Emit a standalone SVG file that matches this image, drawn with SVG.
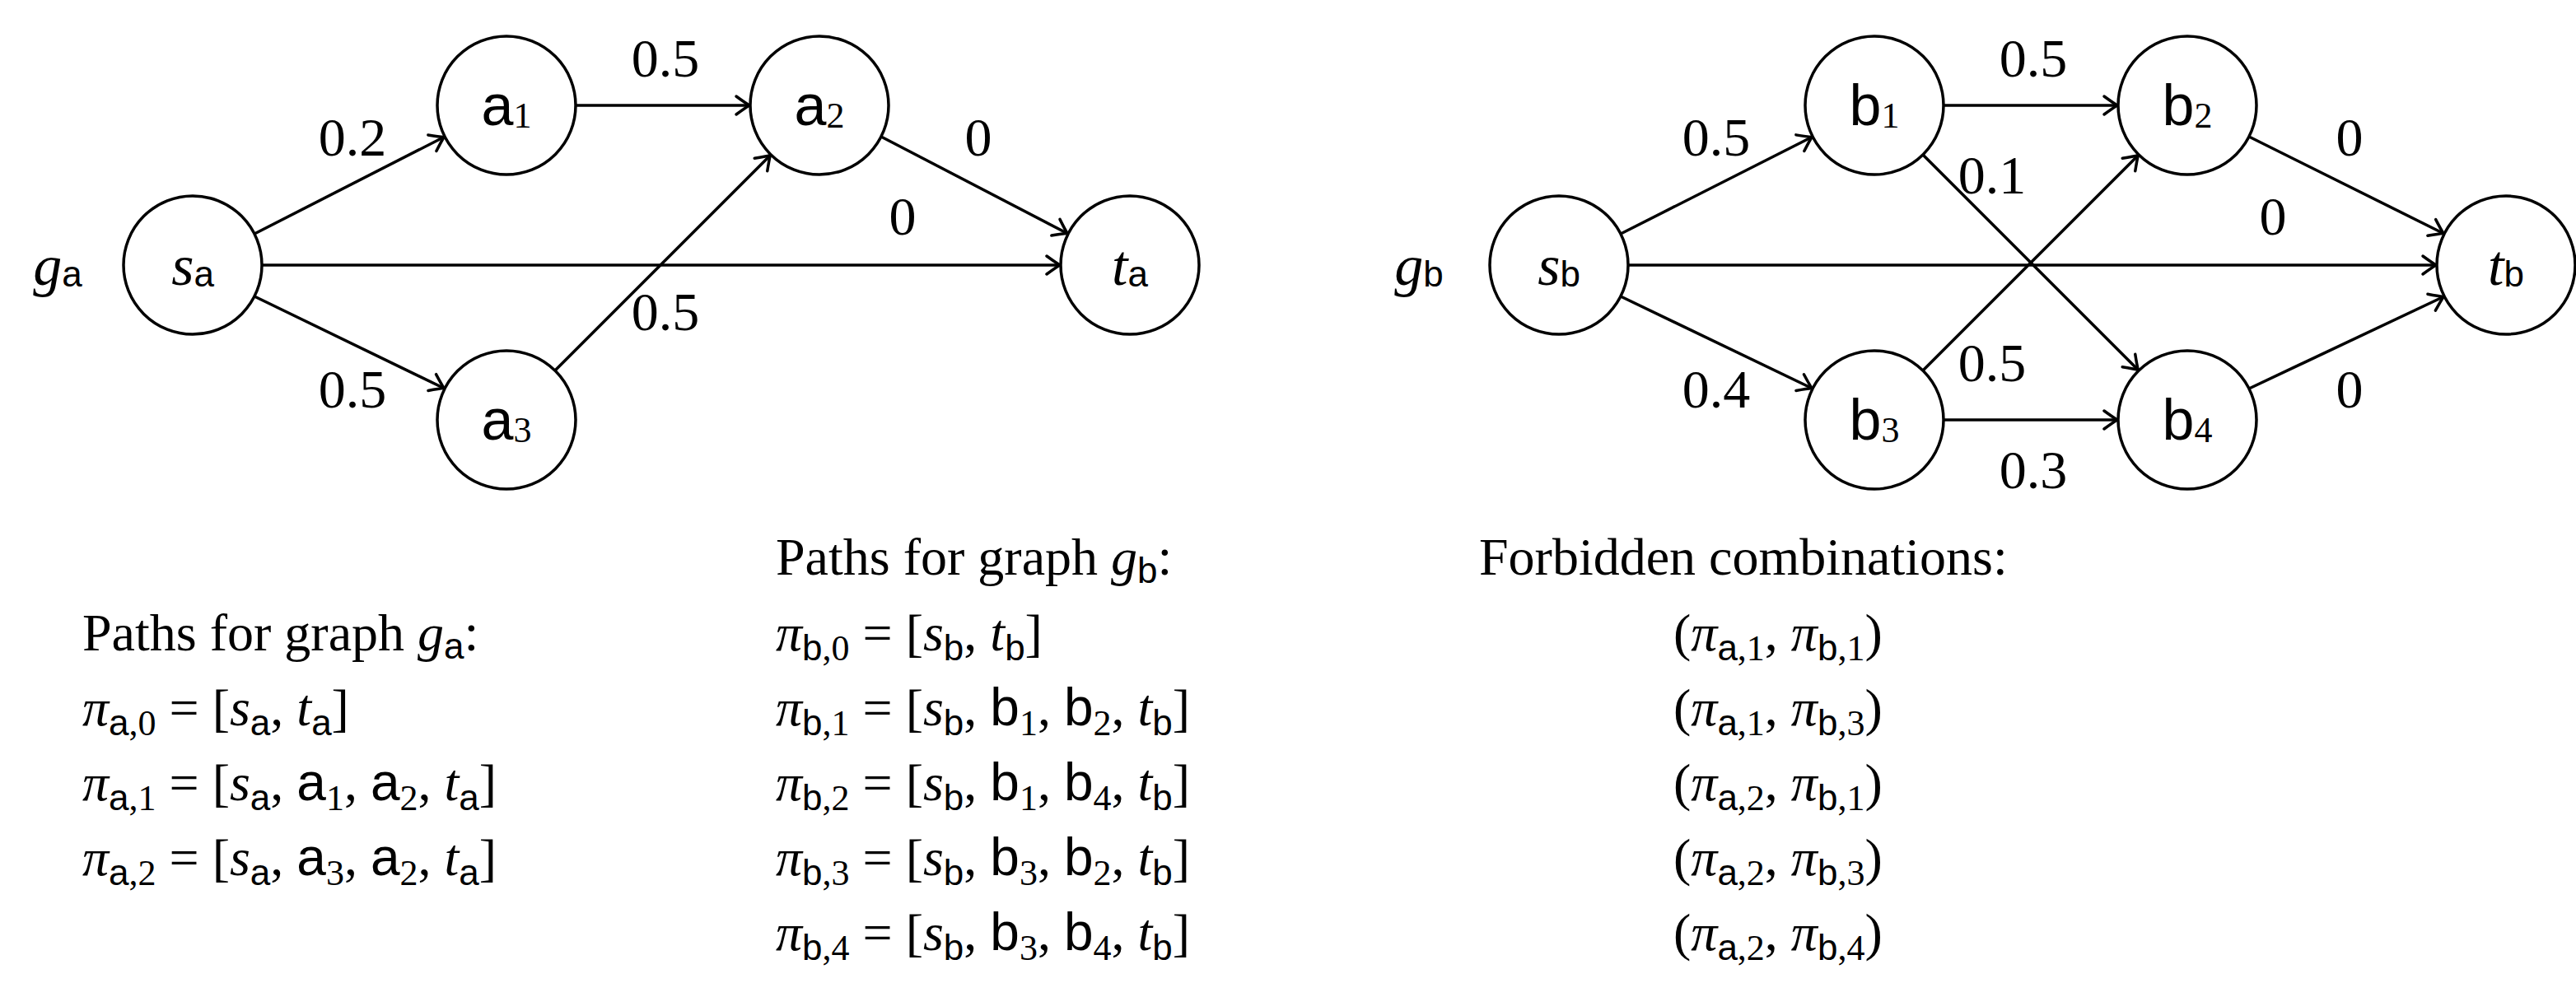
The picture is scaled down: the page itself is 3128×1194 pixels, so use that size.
<svg xmlns="http://www.w3.org/2000/svg" width="3128" height="1194" viewBox="0 0 3128 1194">
<style>
.n{fill:#fff;stroke:#000;stroke-width:3.5}
.e{stroke:#000;stroke-width:3.5;fill:none;marker-end:url(#ar)}
text{font-family:"Liberation Serif","DejaVu Serif",serif;fill:#000}
.w{font-size:66px;text-anchor:middle;dominant-baseline:central}
.l{font-size:70px;text-anchor:middle;dominant-baseline:central}
.t{font-size:64px}
.i{font-style:italic}
.sf{font-family:"Liberation Sans","DejaVu Sans",sans-serif}
.s{font-size:44px}
</style>
<defs>
<marker id="ar" markerUnits="userSpaceOnUse" markerWidth="30" markerHeight="30" viewBox="-24 -15 30 30" refX="1" refY="0" orient="auto">
<path d="M-16,-11 Q-5,-3 0,0 Q-5,3 -16,11" fill="none" stroke="#000" stroke-width="3.5" stroke-linecap="round"/>
</marker>
</defs>
<g id="connectors">
<line class="e" x1="309" y1="284" x2="540" y2="166"/>
<line class="e" x1="309" y1="360" x2="540" y2="472"/>
<line class="e" x1="318" y1="322" x2="1288" y2="322"/>
<line class="e" x1="699" y1="128" x2="911" y2="128"/>
<line class="e" x1="674" y1="450" x2="936" y2="188"/>
<line class="e" x1="1070" y1="166" x2="1297" y2="284"/>
<line class="e" x1="1968" y1="284" x2="2201" y2="166"/>
<line class="e" x1="1968" y1="360" x2="2201" y2="472"/>
<line class="e" x1="1977" y1="322" x2="2959" y2="322"/>
<line class="e" x1="2360" y1="128" x2="2572" y2="128"/>
<line class="e" x1="2360" y1="510" x2="2572" y2="510"/>
<line class="e" x1="2335" y1="188" x2="2597" y2="450"/>
<line class="e" x1="2335" y1="450" x2="2597" y2="188"/>
<line class="e" x1="2731" y1="166" x2="2968" y2="284"/>
<line class="e" x1="2731" y1="472" x2="2968" y2="360"/>
</g>
<g id="weights">
<text class="w" x="428" y="166">0.2</text>
<text class="w" x="808" y="70">0.5</text>
<text class="w" x="1188" y="166">0</text>
<text class="w" x="1096" y="262">0</text>
<text class="w" x="808" y="378">0.5</text>
<text class="w" x="428" y="472">0.5</text>
<text class="w" x="2084" y="166">0.5</text>
<text class="w" x="2469" y="70">0.5</text>
<text class="w" x="2419" y="212">0.1</text>
<text class="w" x="2853" y="166">0</text>
<text class="w" x="2760" y="262">0</text>
<text class="w" x="2419" y="440">0.5</text>
<text class="w" x="2084" y="472">0.4</text>
<text class="w" x="2469" y="570">0.3</text>
<text class="w" x="2853" y="472">0</text>
</g>
<text class="l" x="70" y="322"><tspan class="i">g</tspan><tspan class="sf s" dy="10">a</tspan></text>
<text class="l" x="1723" y="322"><tspan class="i">g</tspan><tspan class="sf s" dy="10">b</tspan></text>
<g id="sa"><circle class="n" cx="234" cy="322" r="84"/><text class="l" x="234" y="322"><tspan class="i">s</tspan><tspan class="sf s" dy="10">a</tspan></text></g>
<g id="a1"><circle class="n" cx="615" cy="128" r="84"/><text class="l" x="615" y="128"><tspan class="sf">a</tspan><tspan class="s" dy="12">1</tspan></text></g>
<g id="a2"><circle class="n" cx="995" cy="128" r="84"/><text class="l" x="995" y="128"><tspan class="sf">a</tspan><tspan class="s" dy="12">2</tspan></text></g>
<g id="a3"><circle class="n" cx="615" cy="510" r="84"/><text class="l" x="615" y="510"><tspan class="sf">a</tspan><tspan class="s" dy="12">3</tspan></text></g>
<g id="ta"><circle class="n" cx="1372" cy="322" r="84"/><text class="l" x="1372" y="322"><tspan class="i">t</tspan><tspan class="sf s" dy="10">a</tspan></text></g>
<g id="sb"><circle class="n" cx="1893" cy="322" r="84"/><text class="l" x="1893" y="322"><tspan class="i">s</tspan><tspan class="sf s" dy="10">b</tspan></text></g>
<g id="b1"><circle class="n" cx="2276" cy="128" r="84"/><text class="l" x="2276" y="128"><tspan class="sf">b</tspan><tspan class="s" dy="12">1</tspan></text></g>
<g id="b2"><circle class="n" cx="2656" cy="128" r="84"/><text class="l" x="2656" y="128"><tspan class="sf">b</tspan><tspan class="s" dy="12">2</tspan></text></g>
<g id="b3"><circle class="n" cx="2276" cy="510" r="84"/><text class="l" x="2276" y="510"><tspan class="sf">b</tspan><tspan class="s" dy="12">3</tspan></text></g>
<g id="b4"><circle class="n" cx="2656" cy="510" r="84"/><text class="l" x="2656" y="510"><tspan class="sf">b</tspan><tspan class="s" dy="12">4</tspan></text></g>
<g id="tb"><circle class="n" cx="3043" cy="322" r="84"/><text class="l" x="3043" y="322"><tspan class="i">t</tspan><tspan class="sf s" dy="10">b</tspan></text></g>
<g id="text-a">
<text class="t" x="100" y="790">Paths for graph <tspan class="i">g</tspan><tspan class="sf s" dy="10">a</tspan><tspan dy="-10">:</tspan></text>
<text class="t" x="100" y="881"><tspan class="i">π</tspan><tspan class="s" dy="12"><tspan class="sf">a</tspan>,0</tspan><tspan dy="-12"> = [</tspan><tspan class="i">s</tspan><tspan class="sf s" dy="12">a</tspan><tspan dy="-12">, </tspan><tspan class="i">t</tspan><tspan class="sf s" dy="12">a</tspan><tspan dy="-12">]</tspan></text>
<text class="t" x="100" y="972"><tspan class="i">π</tspan><tspan class="s" dy="12"><tspan class="sf">a</tspan>,1</tspan><tspan dy="-12"> = [</tspan><tspan class="i">s</tspan><tspan class="sf s" dy="12">a</tspan><tspan dy="-12">, </tspan><tspan class="sf">a</tspan><tspan class="s" dy="12">1</tspan><tspan dy="-12">, </tspan><tspan class="sf">a</tspan><tspan class="s" dy="12">2</tspan><tspan dy="-12">, </tspan><tspan class="i">t</tspan><tspan class="sf s" dy="12">a</tspan><tspan dy="-12">]</tspan></text>
<text class="t" x="100" y="1063"><tspan class="i">π</tspan><tspan class="s" dy="12"><tspan class="sf">a</tspan>,2</tspan><tspan dy="-12"> = [</tspan><tspan class="i">s</tspan><tspan class="sf s" dy="12">a</tspan><tspan dy="-12">, </tspan><tspan class="sf">a</tspan><tspan class="s" dy="12">3</tspan><tspan dy="-12">, </tspan><tspan class="sf">a</tspan><tspan class="s" dy="12">2</tspan><tspan dy="-12">, </tspan><tspan class="i">t</tspan><tspan class="sf s" dy="12">a</tspan><tspan dy="-12">]</tspan></text>
</g>
<g id="text-b">
<text class="t" x="942" y="698">Paths for graph <tspan class="i">g</tspan><tspan class="sf s" dy="10">b</tspan><tspan dy="-10">:</tspan></text>
<text class="t" x="942" y="790"><tspan class="i">π</tspan><tspan class="s" dy="12"><tspan class="sf">b</tspan>,0</tspan><tspan dy="-12"> = [</tspan><tspan class="i">s</tspan><tspan class="sf s" dy="12">b</tspan><tspan dy="-12">, </tspan><tspan class="i">t</tspan><tspan class="sf s" dy="12">b</tspan><tspan dy="-12">]</tspan></text>
<text class="t" x="942" y="881"><tspan class="i">π</tspan><tspan class="s" dy="12"><tspan class="sf">b</tspan>,1</tspan><tspan dy="-12"> = [</tspan><tspan class="i">s</tspan><tspan class="sf s" dy="12">b</tspan><tspan dy="-12">, </tspan><tspan class="sf">b</tspan><tspan class="s" dy="12">1</tspan><tspan dy="-12">, </tspan><tspan class="sf">b</tspan><tspan class="s" dy="12">2</tspan><tspan dy="-12">, </tspan><tspan class="i">t</tspan><tspan class="sf s" dy="12">b</tspan><tspan dy="-12">]</tspan></text>
<text class="t" x="942" y="972"><tspan class="i">π</tspan><tspan class="s" dy="12"><tspan class="sf">b</tspan>,2</tspan><tspan dy="-12"> = [</tspan><tspan class="i">s</tspan><tspan class="sf s" dy="12">b</tspan><tspan dy="-12">, </tspan><tspan class="sf">b</tspan><tspan class="s" dy="12">1</tspan><tspan dy="-12">, </tspan><tspan class="sf">b</tspan><tspan class="s" dy="12">4</tspan><tspan dy="-12">, </tspan><tspan class="i">t</tspan><tspan class="sf s" dy="12">b</tspan><tspan dy="-12">]</tspan></text>
<text class="t" x="942" y="1063"><tspan class="i">π</tspan><tspan class="s" dy="12"><tspan class="sf">b</tspan>,3</tspan><tspan dy="-12"> = [</tspan><tspan class="i">s</tspan><tspan class="sf s" dy="12">b</tspan><tspan dy="-12">, </tspan><tspan class="sf">b</tspan><tspan class="s" dy="12">3</tspan><tspan dy="-12">, </tspan><tspan class="sf">b</tspan><tspan class="s" dy="12">2</tspan><tspan dy="-12">, </tspan><tspan class="i">t</tspan><tspan class="sf s" dy="12">b</tspan><tspan dy="-12">]</tspan></text>
<text class="t" x="942" y="1154"><tspan class="i">π</tspan><tspan class="s" dy="12"><tspan class="sf">b</tspan>,4</tspan><tspan dy="-12"> = [</tspan><tspan class="i">s</tspan><tspan class="sf s" dy="12">b</tspan><tspan dy="-12">, </tspan><tspan class="sf">b</tspan><tspan class="s" dy="12">3</tspan><tspan dy="-12">, </tspan><tspan class="sf">b</tspan><tspan class="s" dy="12">4</tspan><tspan dy="-12">, </tspan><tspan class="i">t</tspan><tspan class="sf s" dy="12">b</tspan><tspan dy="-12">]</tspan></text>
</g>
<g id="text-forbidden">
<text class="t" x="1796" y="698">Forbidden combinations:</text>
<text class="t" x="2032" y="790">(<tspan class="i">π</tspan><tspan class="s" dy="12"><tspan class="sf">a</tspan>,1</tspan><tspan dy="-12">, </tspan><tspan class="i">π</tspan><tspan class="s" dy="12"><tspan class="sf">b</tspan>,1</tspan><tspan dy="-12">)</tspan></text>
<text class="t" x="2032" y="881">(<tspan class="i">π</tspan><tspan class="s" dy="12"><tspan class="sf">a</tspan>,1</tspan><tspan dy="-12">, </tspan><tspan class="i">π</tspan><tspan class="s" dy="12"><tspan class="sf">b</tspan>,3</tspan><tspan dy="-12">)</tspan></text>
<text class="t" x="2032" y="972">(<tspan class="i">π</tspan><tspan class="s" dy="12"><tspan class="sf">a</tspan>,2</tspan><tspan dy="-12">, </tspan><tspan class="i">π</tspan><tspan class="s" dy="12"><tspan class="sf">b</tspan>,1</tspan><tspan dy="-12">)</tspan></text>
<text class="t" x="2032" y="1063">(<tspan class="i">π</tspan><tspan class="s" dy="12"><tspan class="sf">a</tspan>,2</tspan><tspan dy="-12">, </tspan><tspan class="i">π</tspan><tspan class="s" dy="12"><tspan class="sf">b</tspan>,3</tspan><tspan dy="-12">)</tspan></text>
<text class="t" x="2032" y="1154">(<tspan class="i">π</tspan><tspan class="s" dy="12"><tspan class="sf">a</tspan>,2</tspan><tspan dy="-12">, </tspan><tspan class="i">π</tspan><tspan class="s" dy="12"><tspan class="sf">b</tspan>,4</tspan><tspan dy="-12">)</tspan></text>
</g>
</svg>
